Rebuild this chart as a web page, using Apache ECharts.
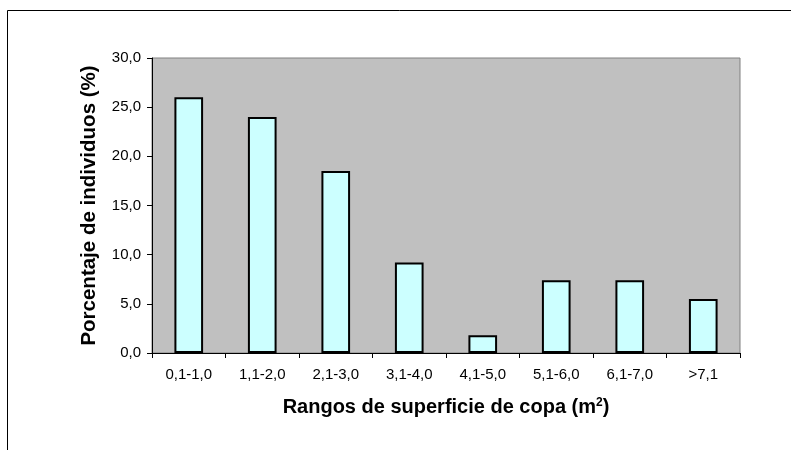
<!DOCTYPE html>
<html>
<head>
<meta charset="utf-8">
<script src="https://cdn.jsdelivr.net/npm/echarts@6/dist/echarts.min.js"></script>
<style>
  html, body { margin: 0; padding: 0; background: #ffffff; }
  #chart { width: 791px; height: 450px; }
</style>
</head>
<body>
<div id="chart"></div>
<script>
// Crown-area classes and share of individuals in each class
const categories = ['0,1-1,0', '1,1-2,0', '2,1-3,0', '3,1-4,0', '4,1-5,0', '5,1-6,0', '6,1-7,0', '>7,1'];
const percentages = [26.0, 24.0, 18.5, 9.2, 1.8, 7.4, 7.4, 5.5];
const yTicks = { min: 0, max: 30, step: 5 };

const FONT = '"Liberation Sans", Arial, sans-serif';

const chart = echarts.init(document.getElementById('chart'), null, { renderer: 'canvas' });

chart.setOption({
  animation: false,
  backgroundColor: '#ffffff',
  graphic: [{
    type: 'rect',
    silent: true,
    shape: { x: 7.5, y: 10.5, width: 900, height: 600 },
    style: { fill: 'none', stroke: '#000000', lineWidth: 1 }
  }],
  grid: {
    left: 152, right: 51, top: 58, bottom: 97,
    show: true,
    backgroundColor: '#c0c0c0',
    borderColor: '#808080',
    borderWidth: 1
  },
  xAxis: {
    type: 'category',
    data: categories,
    boundaryGap: true,
    name: 'Rangos de superficie de copa (m{sup|2})',
    nameLocation: 'middle',
    nameGap: 44,
    nameTextStyle: {
      fontFamily: FONT, fontSize: 20, fontWeight: 'bold', color: '#000000',
      rich: {
        sup: { fontFamily: FONT, fontSize: 12, fontWeight: 'bold', color: '#000000', verticalAlign: 'top', lineHeight: 21 }
      }
    },
    axisLine: { show: true, lineStyle: { color: '#000000', width: 1 } },
    axisTick: { show: true, alignWithLabel: false, length: 5, lineStyle: { color: '#000000' } },
    axisLabel: { fontFamily: FONT, fontSize: 15, color: '#000000', margin: 14, interval: 0 },
    splitLine: { show: false }
  },
  yAxis: {
    type: 'value',
    min: yTicks.min,
    max: yTicks.max,
    interval: yTicks.step,
    name: 'Porcentaje de individuos (%)',
    nameLocation: 'middle',
    nameGap: 52,
    nameTextStyle: { fontFamily: FONT, fontSize: 20.5, fontWeight: 'bold', color: '#000000' },
    axisLine: { show: true, lineStyle: { color: '#000000', width: 1 } },
    axisTick: { show: true, inside: false, length: 5, lineStyle: { color: '#000000' } },
    axisLabel: {
      fontFamily: FONT, fontSize: 15, color: '#000000', margin: 11,
      formatter: v => v.toFixed(1).replace('.', ',')
    },
    splitLine: { show: false }
  },
  series: [{
    type: 'bar',
    data: percentages,
    barWidth: '39%',
    itemStyle: { color: '#ccffff', borderColor: '#000000', borderWidth: 2 }
  }]
});
</script>
</body>
</html>
